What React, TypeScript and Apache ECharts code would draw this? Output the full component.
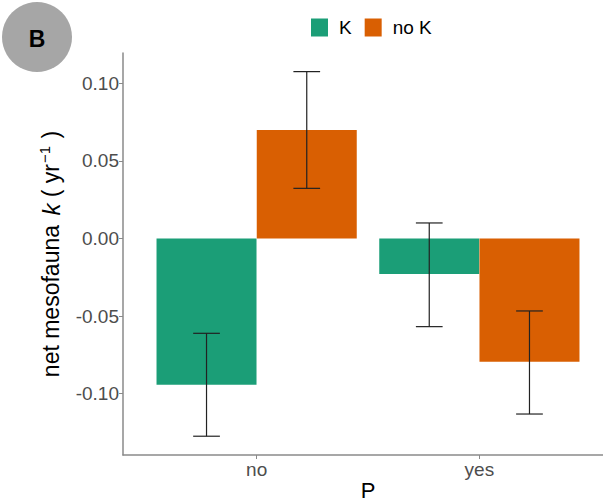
import React, { useEffect, useRef } from "react";
import * as echarts from "echarts";

const categories = ["no", "yes"];
const seriesNames = ["K", "no K"];
const kValues = [-0.0942, -0.0229];
const kLower = [-0.1274, -0.0568];
const kUpper = [-0.0611, 0.01];
const noKValues = [0.0699, -0.0794];
const noKLower = [0.0323, -0.1131];
const noKUpper = [0.1075, -0.0467];
const yTicks = [-0.1, -0.05, 0, 0.05, 0.1];
const colors = ["#1B9E77", "#D95F02"];

const DODGE = 0.225;
const FONT = "'Liberation Sans', Arial, sans-serif";

export default function App() {
  const ref = useRef<HTMLDivElement>(null);
  useEffect(() => {
    const chart = echarts.init(ref.current!, null, { renderer: "svg" });
    const catPos = categories.map((_, i) => i + 1);
    const kData = kValues.map((v, i) => [catPos[i] - DODGE, v]);
    const noKData = noKValues.map((v, i) => [catPos[i] + DODGE, v]);
    const errData = [
      ...kValues.map((_, i) => [catPos[i] - DODGE, kLower[i], kUpper[i]]),
      ...noKValues.map((_, i) => [catPos[i] + DODGE, noKLower[i], noKUpper[i]]),
    ];
    const axisColor = "#8a8a8a";
    chart.setOption({
      animation: false,
      textStyle: { fontFamily: FONT },
      grid: { left: 123, right: -10, top: 53, bottom: 49, outerBoundsMode: "none", containLabel: false },
      legend: {
        top: 13,
        left: 306,
        itemWidth: 17,
        itemHeight: 18,
        itemGap: 13,
        icon: "rect",
        data: seriesNames,
        textStyle: { fontSize: 19, color: "#000", fontFamily: FONT, padding: [0, 0, 0, 6] },
      },
      xAxis: {
        type: "value",
        min: 0.4,
        max: 2.6,
        splitLine: { show: false },
        axisLine: { show: true, onZero: false, lineStyle: { color: axisColor, width: 1.5 } },
        axisTick: { show: true, length: 4, customValues: catPos, lineStyle: { color: axisColor } },
        axisLabel: {
          customValues: catPos,
          formatter: (v: number) => categories[Math.round(v) - 1] ?? "",
          fontSize: 19,
          color: "#4D4D4D",
          margin: 5,
          fontFamily: FONT,
        },
        name: "P",
        nameLocation: "middle",
        nameGap: 24,
        nameMoveOverlap: false,
        nameTextStyle: { fontSize: 22, color: "#000", fontFamily: FONT },
      },
      yAxis: {
        type: "value",
        min: -0.1395,
        max: 0.1195,
        splitLine: { show: false },
        axisLine: { show: true, onZero: false, lineStyle: { color: axisColor, width: 1.5 } },
        axisTick: { show: true, length: 4, customValues: yTicks, lineStyle: { color: axisColor } },
        axisLabel: {
          customValues: yTicks,
          formatter: (v: number) => v.toFixed(2),
          fontSize: 19,
          color: "#4D4D4D",
          margin: 4,
          fontFamily: FONT,
        },
        name: "{n|net mesofauna }{k|k}{n| ( yr}{s|−1}{n| )}",
        nameLocation: "middle",
        nameGap: 58,
        nameMoveOverlap: false,
        nameTextStyle: {
          fontSize: 23,
          color: "#000",
          fontFamily: FONT,
          rich: {
            n: { fontSize: 23, color: "#000", fontFamily: FONT },
            k: { fontSize: 24, color: "#000", fontStyle: "italic", fontFamily: FONT, padding: [0, 0, 0, 3] },
            s: { fontSize: 15, color: "#000", fontFamily: FONT, padding: [0, 1, 13, 1] },
          },
        },
      },
      series: [
        {
          name: seriesNames[0],
          type: "bar",
          data: kData,
          barWidth: 100,
          barGap: "-100%",
          itemStyle: { color: colors[0] },
        },
        {
          name: seriesNames[1],
          type: "bar",
          data: noKData,
          barWidth: 100,
          barGap: "-100%",
          itemStyle: { color: colors[1] },
        },
        {
          type: "custom",
          data: errData,
          encode: { x: 0, y: [1, 2] },
          z: 10,
          renderItem: (params: any, api: any) => {
            const x = api.value(0);
            const lo = api.coord([x, api.value(1)]);
            const hi = api.coord([x, api.value(2)]);
            const l = api.coord([x - 0.06, api.value(1)])[0];
            const r = api.coord([x + 0.06, api.value(1)])[0];
            const style = { stroke: "#222", lineWidth: 1.2 };
            return {
              type: "group",
              children: [
                { type: "line", shape: { x1: lo[0], y1: lo[1], x2: hi[0], y2: hi[1] }, style },
                { type: "line", shape: { x1: l, y1: lo[1], x2: r, y2: lo[1] }, style },
                { type: "line", shape: { x1: l, y1: hi[1], x2: r, y2: hi[1] }, style },
              ],
            };
          },
        },
      ],
      graphic: [
        { type: "circle", shape: { cx: 37, cy: 37, r: 35 }, style: { fill: "#A6A6A6" } },
        {
          type: "text",
          x: 37,
          y: 39,
          style: {
            text: "B",
            fontSize: 23,
            fontWeight: "bold",
            fill: "#000",
            align: "center",
            verticalAlign: "middle",
            fontFamily: FONT,
          },
        },
      ],
    });
    return () => chart.dispose();
  }, []);
  return (
    <div
      ref={ref}
      style={{ position: "fixed", left: 0, top: 0, width: 603, height: 504, background: "#fff" }}
    />
  );
}
